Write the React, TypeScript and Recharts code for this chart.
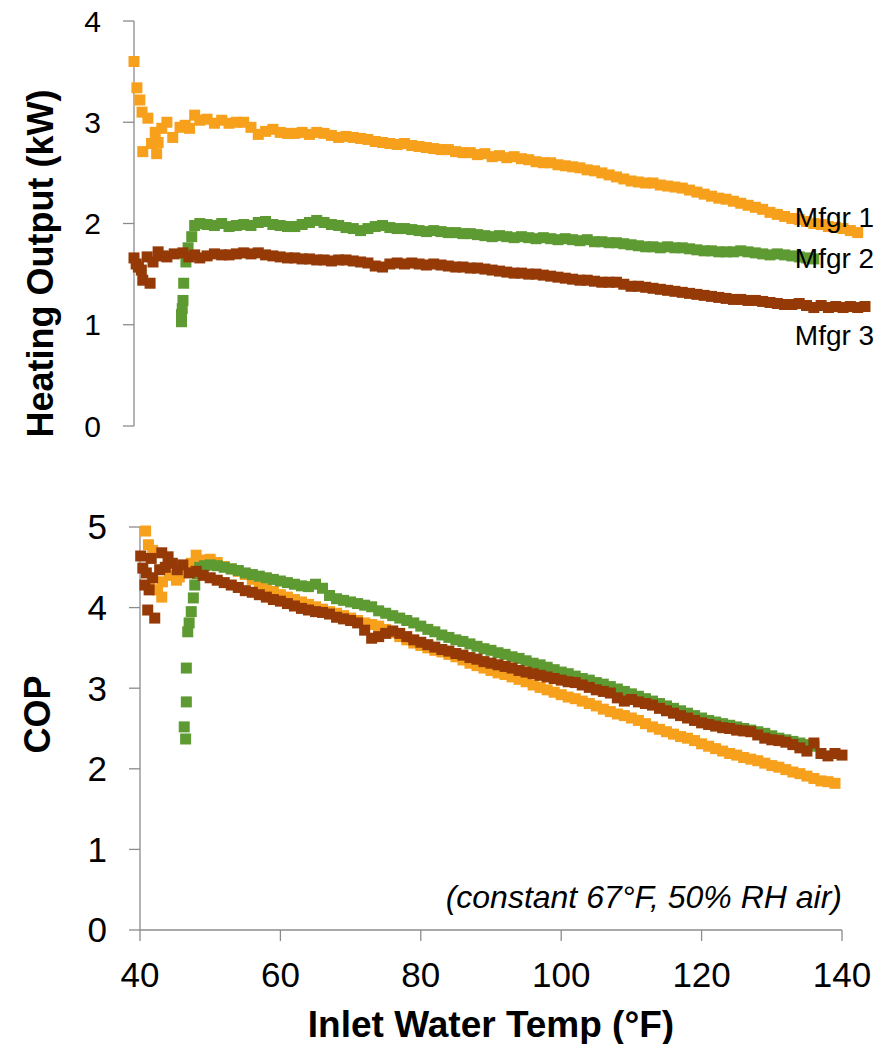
import React from 'react';
import { ScatterChart, Scatter, XAxis, YAxis, ReferenceDot, Label } from 'recharts';

const FONT = '"Liberation Sans", Arial, sans-serif';
const AXIS_GREY = '#8c8c8c';
const ORANGE = '#F7A01C';
const GREEN = '#5E9A32';
const BROWN = '#953A06';

// ---------- Heating output (kW) vs inlet water temp (°F) ----------
const mfgr1Heat: [number, number][] = [
  [40, 3.6], [40.4, 3.34], [40.8, 3.22], [41.1, 3.1], [41.2, 2.71], [41.9, 3.04], [42.4, 2.79], [42.9, 2.9],
  [43.1, 2.69], [43.3, 2.8], [43.8, 2.94], [44.5, 3.0], [45.3, 2.85], [46.3, 2.95], [47, 2.97], [47.6, 2.94],
  [48.3, 3.07], [49, 3.02], [50, 3.03], [51, 2.99], [52, 3.02], [53, 2.99], [54, 3.0], [55, 3.0], [56, 2.95],
  [57, 2.88], [58, 2.91], [59, 2.93], [60, 2.9], [61, 2.89], [62, 2.89], [63, 2.9], [64, 2.88], [65, 2.9],
  [66, 2.89], [67, 2.87], [68, 2.85], [69, 2.86], [70, 2.85], [71, 2.84], [72, 2.83], [73, 2.81], [74, 2.8],
  [75, 2.79], [76, 2.78], [77, 2.79], [78, 2.77], [79, 2.76], [80, 2.75], [81, 2.74], [82, 2.73], [83, 2.73],
  [84, 2.71], [85, 2.7], [86, 2.7], [87, 2.68], [88, 2.69], [89, 2.66], [90, 2.67], [91, 2.65], [92, 2.66],
  [93, 2.64], [94, 2.63], [95, 2.61], [96, 2.6], [97, 2.6], [98, 2.58], [99, 2.57], [100, 2.56], [101, 2.55],
  [102, 2.53], [103, 2.52], [104, 2.5], [105, 2.48], [106, 2.46], [107, 2.44], [108, 2.42], [109, 2.41],
  [110, 2.4], [111, 2.4], [112, 2.38], [113, 2.37], [114, 2.36], [115, 2.35], [116, 2.33], [117, 2.31],
  [118, 2.29], [119, 2.27], [120, 2.25], [121, 2.24], [122, 2.22], [123, 2.2], [124, 2.18], [125, 2.16],
  [126, 2.14], [127, 2.11], [128, 2.09], [129, 2.07], [130, 2.05], [131, 2.04], [132, 2.02], [133, 2.0],
  [134, 1.99], [135, 1.97], [136, 1.96], [137, 1.95], [138, 1.93], [139, 1.91],
];

const mfgr2Heat: [number, number][] = [
  [46.5, 1.03], [46.5, 1.1], [46.6, 1.16], [46.7, 1.24], [46.8, 1.41], [47.1, 1.62], [47.4, 1.76], [47.9, 1.87],
  [48.3, 1.98], [49, 2.0], [50, 1.99], [51, 1.98], [52, 2.0], [53, 1.97], [54, 1.98], [55, 1.99], [56, 1.98],
  [57, 2.01], [58, 2.02], [59, 1.99], [60, 1.98], [61, 1.97], [62, 1.97], [63, 1.99], [64, 2.01], [65, 2.03],
  [66, 2.01], [67, 1.99], [68, 1.98], [69, 1.96], [70, 1.95], [71, 1.93], [72, 1.95], [73, 1.97], [74, 1.98],
  [75, 1.96], [76, 1.95], [77, 1.95], [78, 1.94], [79, 1.93], [80, 1.92], [81, 1.93], [82, 1.92], [83, 1.91],
  [84, 1.91], [85, 1.9], [86, 1.9], [87, 1.89], [88, 1.88], [89, 1.87], [90, 1.88], [91, 1.87], [92, 1.86],
  [93, 1.87], [94, 1.86], [95, 1.85], [96, 1.86], [97, 1.85], [98, 1.84], [99, 1.85], [100, 1.84], [101, 1.83],
  [102, 1.84], [103, 1.82], [104, 1.82], [105, 1.81], [106, 1.81], [107, 1.8], [108, 1.79], [109, 1.78],
  [110, 1.77], [111, 1.77], [112, 1.76], [113, 1.77], [114, 1.76], [115, 1.76], [116, 1.75], [117, 1.74],
  [118, 1.73], [119, 1.73], [120, 1.72], [121, 1.72], [122, 1.72], [123, 1.73], [124, 1.72], [125, 1.71],
  [126, 1.7], [127, 1.69], [128, 1.7], [129, 1.69], [130, 1.68], [131, 1.67], [132, 1.66], [133, 1.65],
];

const mfgr3Heat: [number, number][] = [
  [40, 1.66], [40.3, 1.6], [40.6, 1.57], [41, 1.54], [41.2, 1.44], [41.8, 1.67], [42.2, 1.41], [42.6, 1.62],
  [43.3, 1.72], [44, 1.68], [44.5, 1.67], [45.5, 1.7], [46.7, 1.71], [47.5, 1.67], [48.3, 1.69], [49, 1.66],
  [50, 1.68], [51, 1.7], [52, 1.69], [53, 1.69], [54, 1.7], [55, 1.71], [56, 1.7], [57, 1.71], [58, 1.69],
  [59, 1.68], [60, 1.67], [61, 1.66], [62, 1.66], [63, 1.65], [64, 1.65], [65, 1.64], [66, 1.64], [67, 1.63],
  [68, 1.64], [69, 1.64], [70, 1.63], [71, 1.62], [72, 1.61], [73, 1.58], [74, 1.57], [75, 1.6], [76, 1.61],
  [77, 1.6], [78, 1.61], [79, 1.6], [80, 1.59], [81, 1.6], [82, 1.59], [83, 1.58], [84, 1.57], [85, 1.57],
  [86, 1.56], [87, 1.56], [88, 1.55], [89, 1.54], [90, 1.53], [91, 1.52], [92, 1.51], [93, 1.51], [94, 1.5],
  [95, 1.5], [96, 1.49], [97, 1.48], [98, 1.47], [99, 1.46], [100, 1.45], [101, 1.44], [102, 1.44], [103, 1.43],
  [104, 1.42], [105, 1.42], [106, 1.42], [107, 1.4], [108, 1.38], [109, 1.38], [110, 1.37], [111, 1.36],
  [112, 1.35], [113, 1.34], [114, 1.33], [115, 1.32], [116, 1.31], [117, 1.3], [118, 1.29], [119, 1.28],
  [120, 1.27], [121, 1.26], [122, 1.25], [123, 1.25], [124, 1.24], [125, 1.24], [126, 1.23], [127, 1.22],
  [128, 1.21], [129, 1.2], [130, 1.2], [131, 1.21], [132, 1.19], [133, 1.17], [134, 1.19], [135, 1.17],
  [136, 1.18], [137, 1.17], [138, 1.18], [139, 1.17], [140, 1.18],
];

// ---------- COP vs inlet water temp (°F) ----------
const mfgr1Cop: [number, number][] = [
  [40.8, 4.95], [41.2, 4.78], [41.8, 4.71], [41.4, 4.24], [42.5, 4.22], [43.1, 4.13], [43.2, 4.32], [44.2, 4.4],
  [45.2, 4.34], [45.6, 4.38], [46.5, 4.45], [47.3, 4.55], [48, 4.65], [48.9, 4.59], [50, 4.6], [51, 4.56],
  [52, 4.51], [53, 4.48], [54, 4.45], [55, 4.41], [56, 4.35], [57, 4.29], [58, 4.24], [59, 4.2], [60, 4.16],
  [61, 4.13], [62, 4.1], [63, 4.07], [64, 4.04], [65, 4.01], [66, 3.98], [67, 3.95], [68, 3.93], [69, 3.9],
  [70, 3.87], [71, 3.84], [72, 3.81], [73, 3.79], [74, 3.77], [75, 3.73], [76, 3.69], [77, 3.64], [78, 3.6],
  [79, 3.56], [80, 3.53], [81, 3.5], [82, 3.47], [83, 3.45], [84, 3.42], [85, 3.39], [86, 3.35], [87, 3.31],
  [88, 3.28], [89, 3.25], [90, 3.22], [91, 3.19], [92, 3.17], [93, 3.14], [94, 3.11], [95, 3.08], [96, 3.04],
  [97, 3.01], [98, 2.98], [99, 2.95], [100, 2.92], [101, 2.89], [102, 2.87], [103, 2.84], [104, 2.81],
  [105, 2.78], [106, 2.74], [107, 2.71], [108, 2.68], [109, 2.66], [110, 2.63], [111, 2.6], [112, 2.56],
  [113, 2.52], [114, 2.49], [115, 2.46], [116, 2.43], [117, 2.4], [118, 2.38], [119, 2.35], [120, 2.31],
  [121, 2.28], [122, 2.25], [123, 2.22], [124, 2.19], [125, 2.17], [126, 2.14], [127, 2.12], [128, 2.1],
  [129, 2.07], [130, 2.04], [131, 2.02], [132, 1.99], [133, 1.96], [134, 1.94], [135, 1.91], [136, 1.88],
  [137, 1.85], [138, 1.84], [139, 1.82],
];

const mfgr2Cop: [number, number][] = [
  [46.5, 2.37], [46.3, 2.52], [46.6, 2.83], [46.6, 3.25], [46.8, 3.7], [47, 3.81], [47.3, 3.95], [47.6, 4.12],
  [47.8, 4.28], [48.2, 4.42], [48.5, 4.5], [49.2, 4.52], [50, 4.53], [51, 4.52], [52, 4.5], [53, 4.48],
  [54, 4.46], [55, 4.43], [56, 4.41], [57, 4.39], [58, 4.37], [59, 4.35], [60, 4.33], [61, 4.31], [62, 4.29],
  [63, 4.27], [64, 4.26], [65, 4.29], [66, 4.24], [67, 4.15], [68, 4.11], [69, 4.09], [70, 4.07], [71, 4.05],
  [72, 4.03], [73, 4.01], [74, 3.96], [75, 3.93], [76, 3.9], [77, 3.87], [78, 3.84], [79, 3.81], [80, 3.77],
  [81, 3.73], [82, 3.7], [83, 3.66], [84, 3.63], [85, 3.6], [86, 3.58], [87, 3.55], [88, 3.52], [89, 3.49],
  [90, 3.47], [91, 3.44], [92, 3.42], [93, 3.39], [94, 3.37], [95, 3.34], [96, 3.31], [97, 3.29], [98, 3.26],
  [99, 3.23], [100, 3.2], [101, 3.18], [102, 3.15], [103, 3.12], [104, 3.1], [105, 3.07], [106, 3.05],
  [107, 3.02], [108, 2.99], [109, 2.96], [110, 2.93], [111, 2.9], [112, 2.87], [113, 2.84], [114, 2.81],
  [115, 2.78], [116, 2.75], [117, 2.72], [118, 2.69], [119, 2.66], [120, 2.63], [121, 2.6], [122, 2.58],
  [123, 2.56], [124, 2.54], [125, 2.52], [126, 2.5], [127, 2.48], [128, 2.46], [129, 2.44], [130, 2.41],
  [131, 2.38], [132, 2.36], [133, 2.34], [134, 2.32], [135, 2.3], [136, 2.28],
];

const mfgr3Cop: [number, number][] = [
  [40.1, 4.64], [40.4, 4.49], [40.7, 4.28], [40.9, 4.43], [41.1, 3.97], [41.3, 4.22], [41.6, 4.61], [41.8, 4.37],
  [42.1, 3.87], [42.8, 4.47], [43.1, 4.68], [43.6, 4.5], [44, 4.63], [44.6, 4.55], [45.3, 4.47], [46.1, 4.53],
  [47, 4.43], [48, 4.45], [49, 4.4], [50, 4.37], [51, 4.34], [52, 4.31], [53, 4.28], [54, 4.25], [55, 4.21],
  [56, 4.19], [57, 4.16], [58, 4.13], [59, 4.1], [60, 4.08], [61, 4.05], [62, 4.02], [63, 3.99], [64, 3.97],
  [65, 3.95], [66, 3.94], [67, 3.92], [68, 3.88], [69, 3.86], [70, 3.84], [71, 3.81], [72, 3.72], [73, 3.62],
  [74, 3.64], [75, 3.68], [76, 3.71], [77, 3.68], [78, 3.64], [79, 3.6], [80, 3.57], [81, 3.54], [82, 3.51],
  [83, 3.48], [84, 3.46], [85, 3.43], [86, 3.41], [87, 3.38], [88, 3.36], [89, 3.33], [90, 3.31], [91, 3.29],
  [92, 3.27], [93, 3.25], [94, 3.22], [95, 3.2], [96, 3.18], [97, 3.16], [98, 3.14], [99, 3.12], [100, 3.1],
  [101, 3.08], [102, 3.07], [103, 3.04], [104, 3.01], [105, 2.98], [106, 2.96], [107, 2.94], [108, 2.88],
  [109, 2.84], [110, 2.86], [111, 2.83], [112, 2.81], [113, 2.79], [114, 2.75], [115, 2.72], [116, 2.69],
  [117, 2.66], [118, 2.63], [119, 2.6], [120, 2.57], [121, 2.55], [122, 2.53], [123, 2.51], [124, 2.5],
  [125, 2.48], [126, 2.47], [127, 2.46], [128, 2.42], [129, 2.38], [130, 2.36], [131, 2.35], [132, 2.33],
  [133, 2.3], [134, 2.26], [135, 2.22], [136, 2.32], [137, 2.19], [138, 2.16], [139, 2.19], [140, 2.17],
];

const heatTicks = [0, 1, 2, 3, 4];
const copTicks = [0, 1, 2, 3, 4, 5];
const tempTicks = [40, 60, 80, 100, 120, 140];
const seriesNames = ['Mfgr 1', 'Mfgr 2', 'Mfgr 3'];
// label anchor positions in data units (temp, kW) for series names
const nameAnchorTemp = [130.4, 130.4, 130.4];
const nameAnchorKw = [1.965, 1.56, 0.8];
const noteText = '(constant 67°F, 50% RH air)';

const toPts = (arr: [number, number][]) => arr.map(([x, y]) => ({ x, y }));

const MARK = 11;
const squareShape = (color: string) => (props: any) => {
  const { cx, cy } = props;
  if (cx == null || cy == null) return <g />;
  return <rect x={cx - MARK / 2} y={cy - MARK / 2} width={MARK} height={MARK} fill={color} />;
};

const yTitle = (text: string, baseX: number, dy: number) => (props: any) => {
  const vb = props.viewBox || {};
  const x = (vb.x || 0) + baseX;
  const y = (vb.y || 0) + (vb.height || 0) / 2 + dy;
  return (
    <text
      x={x}
      y={y}
      transform={`rotate(-90 ${x} ${y})`}
      textAnchor="middle"
      fontFamily={FONT}
      fontWeight="bold"
      fontSize={36}
      fill="#000"
    >
      {text}
    </text>
  );
};

const xTitle = (text: string, baseline: number) => (props: any) => {
  const vb = props.viewBox || {};
  const x = (vb.x || 0) + (vb.width || 0) / 2;
  const y = (vb.y || 0) + baseline;
  return (
    <text x={x} y={y} textAnchor="middle" fontFamily={FONT} fontWeight="bold" fontSize={37} fill="#000">
      {text}
    </text>
  );
};

const sideText = (text: string, anchor: 'start' | 'end', size: number, italic: boolean) => (props: any) => {
  const vb = props.viewBox || {};
  const x = (vb.x || 0) + (vb.width || 0) / 2;
  const y = (vb.y || 0) + (vb.height || 0) / 2;
  return (
    <text
      x={x}
      y={y}
      textAnchor={anchor}
      fontFamily={FONT}
      fontSize={size}
      fontStyle={italic ? 'italic' : 'normal'}
      fill="#000"
    >
      {text}
    </text>
  );
};

export default function App() {
  const colors = [ORANGE, GREEN, BROWN];
  const heat = [mfgr1Heat, mfgr2Heat, mfgr3Heat];
  const cop = [mfgr1Cop, mfgr2Cop, mfgr3Cop];
  return (
    <div style={{ position: 'absolute', left: 0, top: 0, width: 895, height: 1044, background: '#fff' }}>
      <div style={{ position: 'absolute', left: 0, top: 0 }}>
        <ScatterChart width={895} height={460} margin={{ top: 21, right: 30, bottom: 34, left: 0 }}>
          <XAxis type="number" dataKey="x" domain={[40, 140]} hide />
          <YAxis
            type="number"
            dataKey="y"
            domain={[0, 4]}
            ticks={heatTicks}
            width={134}
            tickSize={11}
            tickMargin={22}
            axisLine={{ stroke: AXIS_GREY, strokeWidth: 1.3 }}
            tickLine={{ stroke: AXIS_GREY, strokeWidth: 1.3 }}
            tick={{ fill: '#000', fontSize: 30, fontFamily: FONT }}
          >
            <Label content={yTitle('Heating Output (kW)', 53, 40)} />
          </YAxis>
          {heat.map((d, i) => (
            <Scatter
              key={seriesNames[i]}
              name={seriesNames[i]}
              data={toPts(d)}
              fill={colors[i]}
              shape={squareShape(colors[i])}
              isAnimationActive={false}
            />
          ))}
          {seriesNames.map((n, i) => (
            <ReferenceDot
              key={n}
              x={nameAnchorTemp[i]}
              y={nameAnchorKw[i]}
              r={0}
              fill="none"
              stroke="none"
              ifOverflow="visible"
              label={<Label content={sideText(n, 'start', 28, false)} />}
            />
          ))}
        </ScatterChart>
      </div>
      <div style={{ position: 'absolute', left: 0, top: 460 }}>
        <ScatterChart width={895} height={584} margin={{ top: 67, right: 53, bottom: 0, left: 0 }}>
          <XAxis
            type="number"
            dataKey="x"
            domain={[40, 140]}
            ticks={tempTicks}
            height={114}
            tickSize={11}
            tickMargin={21}
            axisLine={{ stroke: AXIS_GREY, strokeWidth: 1.3 }}
            tickLine={{ stroke: AXIS_GREY, strokeWidth: 1.3 }}
            tick={{ fill: '#000', fontSize: 35, fontFamily: FONT }}
          >
            <Label content={xTitle('Inlet Water Temp (°F)', 107)} />
          </XAxis>
          <YAxis
            type="number"
            dataKey="y"
            domain={[0, 5]}
            ticks={copTicks}
            width={140}
            tickSize={11}
            tickMargin={22}
            axisLine={{ stroke: AXIS_GREY, strokeWidth: 1.3 }}
            tickLine={{ stroke: AXIS_GREY, strokeWidth: 1.3 }}
            tick={{ fill: '#000', fontSize: 35, fontFamily: FONT }}
          >
            <Label content={yTitle('COP', 50, -14)} />
          </YAxis>
          {cop.map((d, i) => (
            <Scatter
              key={seriesNames[i]}
              name={seriesNames[i]}
              data={toPts(d)}
              fill={colors[i]}
              shape={squareShape(colors[i])}
              isAnimationActive={false}
            />
          ))}
          <ReferenceDot
            x={140}
            y={0.27}
            r={0}
            fill="none"
            stroke="none"
            ifOverflow="visible"
            label={<Label content={sideText(noteText, 'end', 32, true)} />}
          />
        </ScatterChart>
      </div>
    </div>
  );
}
